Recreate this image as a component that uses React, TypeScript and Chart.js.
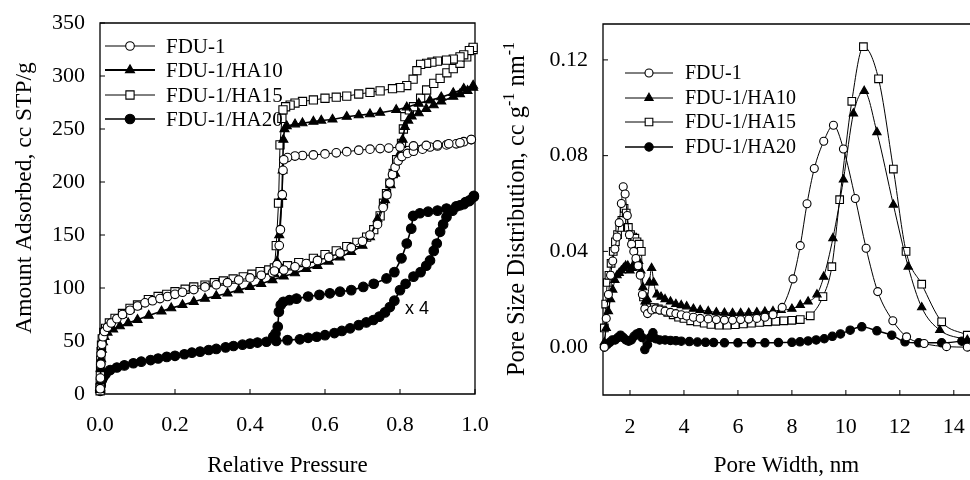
import React, { useEffect, useRef } from 'react';
import { Chart, registerables } from 'chart.js';

Chart.register(...registerables);

const SERIF = '"Liberation Serif", "Times New Roman", serif';
const SANS = '"Liberation Sans", Arial, sans-serif';

const SERIES_LABELS = ['FDU-1', 'FDU-1/HA10', 'FDU-1/HA15', 'FDU-1/HA20'];

// ---------- Left panel: N2 isotherms (relative pressure, cc STP/g) ----------
const FDU1_ADS: [number, number][] = [
  [0.0005, 5], [0.001, 15], [0.002, 28], [0.003, 38], [0.005, 47], [0.008, 54], [0.012, 59], [0.02, 63],
  [0.03, 67], [0.045, 71], [0.06, 75], [0.08, 79], [0.1, 83], [0.12, 86], [0.14, 88], [0.16, 90],
  [0.18, 92], [0.2, 94], [0.22, 96], [0.25, 98.5], [0.28, 101], [0.31, 103], [0.34, 105], [0.37, 107.5],
  [0.4, 109.5], [0.43, 112], [0.46, 114.5], [0.49, 117], [0.52, 120], [0.55, 123], [0.58, 126], [0.61, 129],
  [0.64, 133], [0.67, 138], [0.7, 144], [0.72, 150], [0.74, 160], [0.755, 176], [0.765, 188], [0.773, 199],
  [0.78, 207], [0.787, 214], [0.795, 220], [0.805, 224], [0.82, 227], [0.836, 229], [0.86, 231], [0.88, 233],
  [0.9, 234], [0.924, 235], [0.95, 236], [0.97, 238], [0.99, 240],
];
const FDU1_DES: [number, number][] = [
  [0.99, 240], [0.96, 237], [0.93, 236], [0.9, 235], [0.87, 234.5], [0.836, 234], [0.8, 233], [0.77, 232],
  [0.747, 231.5], [0.72, 231], [0.69, 230], [0.658, 228.6], [0.63, 227.5], [0.6, 226.5], [0.569, 225.5],
  [0.54, 225], [0.52, 224.5], [0.5, 223], [0.49, 221], [0.488, 211], [0.486, 188], [0.481, 155], [0.478, 140],
  [0.472, 122], [0.465, 116],
];

const HA10_ADS: [number, number][] = [
  [0.0005, 4], [0.001, 12], [0.002, 24], [0.003, 33], [0.005, 42], [0.008, 49], [0.012, 54], [0.02, 58],
  [0.035, 61], [0.053, 64], [0.075, 67], [0.1, 70], [0.13, 74], [0.164, 78], [0.19, 81], [0.22, 84],
  [0.25, 87], [0.28, 90], [0.31, 92.5], [0.34, 95], [0.37, 98], [0.4, 101], [0.43, 104], [0.46, 107.5],
  [0.49, 111], [0.52, 114], [0.55, 118], [0.58, 121], [0.61, 125], [0.64, 129], [0.67, 134], [0.7, 140],
  [0.72, 148], [0.74, 165], [0.76, 183], [0.775, 197], [0.787, 208], [0.8, 227], [0.807, 240], [0.813, 252],
  [0.822, 258], [0.831, 262], [0.85, 265], [0.87, 269], [0.89, 272.5], [0.91, 276], [0.942, 280.5],
  [0.96, 283], [0.98, 286], [0.995, 289],
];
const HA10_DES: [number, number][] = [
  [0.995, 291], [0.97, 288], [0.942, 284], [0.91, 280], [0.88, 277], [0.85, 274], [0.818, 270.5], [0.79, 268],
  [0.747, 265.4], [0.72, 264], [0.69, 263], [0.658, 261.6], [0.62, 259], [0.59, 258], [0.569, 257],
  [0.54, 255.5], [0.52, 254.5], [0.498, 252.8], [0.492, 250], [0.489, 240], [0.487, 211], [0.485, 186],
  [0.478, 150], [0.472, 125], [0.465, 113],
];

const HA15_ADS: [number, number][] = [
  [0.0003, 3], [0.0006, 10], [0.001, 18], [0.0015, 25], [0.002, 32], [0.003, 40], [0.004, 46], [0.006, 52],
  [0.01, 58], [0.015, 62], [0.025, 67], [0.04, 71.4], [0.06, 76], [0.08, 80.8], [0.1, 84], [0.129, 89],
  [0.155, 92], [0.178, 94], [0.2, 96.5], [0.227, 98.8], [0.25, 101], [0.28, 102.8], [0.305, 105],
  [0.329, 106.6], [0.355, 108.5], [0.382, 110.5], [0.405, 113], [0.427, 115.4], [0.45, 117], [0.476, 118.6],
  [0.5, 121], [0.53, 124], [0.569, 128], [0.6, 131.5], [0.63, 135], [0.658, 139], [0.685, 143], [0.711, 148],
  [0.73, 155], [0.747, 168], [0.756, 180], [0.764, 189], [0.773, 199], [0.782, 208], [0.791, 221],
  [0.804, 236.5], [0.809, 250], [0.813, 261.6], [0.825, 268], [0.836, 271], [0.855, 279], [0.871, 286.8],
  [0.89, 293], [0.907, 297.8], [0.925, 303], [0.942, 307], [0.96, 312], [0.978, 318], [0.995, 325],
];
const HA15_DES: [number, number][] = [
  [0.995, 327], [0.985, 324], [0.97, 320], [0.96, 318], [0.942, 316], [0.924, 315], [0.9, 314], [0.885, 313],
  [0.871, 312], [0.855, 311], [0.845, 305], [0.835, 297], [0.818, 291], [0.8, 289], [0.78, 288], [0.747, 286],
  [0.72, 284.5], [0.69, 283], [0.658, 281], [0.63, 280], [0.6, 279], [0.569, 277.4], [0.54, 276],
  [0.52, 274.5], [0.507, 272.5], [0.495, 271], [0.488, 268], [0.485, 260], [0.48, 235], [0.476, 180],
  [0.47, 140], [0.465, 119],
];

const HA20_ADS: [number, number][] = [
  [0.0005, 3], [0.002, 8], [0.005, 13], [0.009, 16], [0.015, 19], [0.027, 22.6], [0.045, 25], [0.065, 27],
  [0.089, 29], [0.11, 30.5], [0.135, 32], [0.155, 33.5], [0.178, 35], [0.2, 36], [0.225, 37.5], [0.245, 39],
  [0.267, 40], [0.29, 41.5], [0.31, 42.5], [0.335, 44], [0.356, 45.3], [0.38, 46.5], [0.4, 47.5], [0.42, 48.5],
  [0.444, 49.3], [0.47, 50], [0.5, 50.8], [0.533, 51.6], [0.555, 53], [0.578, 54], [0.6, 55.5], [0.625, 57.5],
  [0.645, 59.5], [0.667, 62], [0.69, 65], [0.71, 67.5], [0.729, 69.8], [0.745, 73], [0.76, 77], [0.773, 82],
  [0.785, 88], [0.8, 98], [0.815, 104], [0.836, 110.7], [0.855, 115], [0.87, 121], [0.88, 126], [0.89, 135],
  [0.898, 142], [0.907, 153], [0.915, 160], [0.924, 167], [0.94, 173], [0.96, 178], [0.975, 181],
  [0.987, 183], [0.997, 186],
];
const HA20_DES: [number, number][] = [
  [0.997, 187], [0.985, 182], [0.97, 179], [0.95, 177], [0.924, 175], [0.9, 173], [0.875, 172],
  [0.853, 170.5], [0.835, 168], [0.83, 156], [0.818, 142], [0.804, 128], [0.785, 115], [0.764, 109],
  [0.73, 104], [0.702, 101], [0.67, 98], [0.64, 96.5], [0.613, 95], [0.585, 93.5], [0.555, 92], [0.524, 90],
  [0.505, 88.5], [0.489, 87], [0.482, 84], [0.477, 77.6], [0.474, 63.5], [0.468, 57], [0.462, 54],
];

const LEFT_X_TICKS = [0, 0.2, 0.4, 0.6, 0.8, 1.0];
const LEFT_Y_TICKS = [0, 50, 100, 150, 200, 250, 300, 350];
const LEFT_X_TITLE = 'Relative Pressure';
const LEFT_Y_TITLE = 'Amount Adsorbed, cc STP/g';
const SCALE_NOTE = 'x 4';
const SCALE_NOTE_AT: [number, number] = [0.813, 80];

// ---------- Right panel: pore size distributions (nm, cc g-1 nm-1) ----------
const FDU1_PSD: [number, number][] = [
  [1.05, 0.0], [1.12, 0.012], [1.2, 0.022], [1.28, 0.03], [1.36, 0.036], [1.44, 0.041], [1.52, 0.046],
  [1.6, 0.052], [1.68, 0.06], [1.75, 0.067], [1.82, 0.064], [1.9, 0.055], [1.98, 0.047], [2.06, 0.043],
  [2.14, 0.04], [2.22, 0.037], [2.3, 0.034], [2.38, 0.03], [2.46, 0.022], [2.55, 0.016], [2.65, 0.014],
  [2.8, 0.0155], [2.95, 0.016], [3.1, 0.0155], [3.3, 0.015], [3.5, 0.0145], [3.7, 0.014], [3.9, 0.0135],
  [4.1, 0.013], [4.35, 0.0125], [4.6, 0.012], [4.9, 0.0118], [5.2, 0.0115], [5.5, 0.0113], [5.8, 0.0113],
  [6.1, 0.0115], [6.4, 0.0117], [6.7, 0.012], [7.0, 0.0125], [7.3, 0.0135], [7.64, 0.0166], [8.04, 0.0285],
  [8.31, 0.0424], [8.56, 0.0599], [8.83, 0.0746], [9.18, 0.086], [9.54, 0.0927], [9.91, 0.0828],
  [10.35, 0.0621], [10.75, 0.0413], [11.18, 0.0232], [11.74, 0.011], [12.25, 0.0043], [12.9, 0.0015],
  [13.73, 0.0002], [14.5, 0.0],
];
const HA10_PSD: [number, number][] = [
  [1.05, 0.002], [1.12, 0.008], [1.2, 0.015], [1.28, 0.02], [1.36, 0.024], [1.44, 0.028], [1.52, 0.03],
  [1.6, 0.031], [1.68, 0.032], [1.76, 0.033], [1.84, 0.034], [1.92, 0.034], [2.0, 0.032], [2.08, 0.033],
  [2.16, 0.035], [2.24, 0.037], [2.32, 0.036], [2.4, 0.032], [2.48, 0.025], [2.56, 0.019], [2.64, 0.02],
  [2.72, 0.027], [2.8, 0.033], [2.88, 0.027], [3.0, 0.022], [3.15, 0.021], [3.3, 0.02], [3.5, 0.019],
  [3.7, 0.018], [3.9, 0.0175], [4.1, 0.017], [4.35, 0.016], [4.6, 0.0155], [4.9, 0.015], [5.2, 0.0145],
  [5.5, 0.0143], [5.8, 0.0142], [6.1, 0.0142], [6.4, 0.0143], [6.7, 0.0145], [7.0, 0.0148], [7.3, 0.015],
  [7.6, 0.0155], [8.0, 0.016], [8.31, 0.0176], [8.6, 0.019], [8.93, 0.022], [9.18, 0.0294], [9.52, 0.0455],
  [9.91, 0.07], [10.28, 0.0976], [10.68, 0.107], [11.15, 0.0898], [11.76, 0.0595], [12.31, 0.0336],
  [12.81, 0.0166], [13.48, 0.0071], [14.5, 0.003],
];
const HA15_PSD: [number, number][] = [
  [1.05, 0.008], [1.1, 0.018], [1.16, 0.027], [1.22, 0.03], [1.3, 0.035], [1.38, 0.04], [1.46, 0.044],
  [1.54, 0.047], [1.62, 0.05], [1.7, 0.053], [1.78, 0.058], [1.86, 0.056], [1.94, 0.05], [2.02, 0.047],
  [2.1, 0.046], [2.18, 0.0455], [2.26, 0.044], [2.34, 0.043], [2.42, 0.04], [2.5, 0.021], [2.6, 0.017],
  [2.75, 0.0165], [2.9, 0.0165], [3.05, 0.016], [3.2, 0.0155], [3.4, 0.0145], [3.6, 0.0135], [3.8, 0.0125],
  [4.0, 0.012], [4.25, 0.011], [4.5, 0.0105], [4.75, 0.01], [5.0, 0.0095], [5.3, 0.0092], [5.6, 0.0092],
  [5.9, 0.0094], [6.2, 0.0097], [6.5, 0.01], [6.8, 0.0103], [7.1, 0.0106], [7.4, 0.0108], [7.7, 0.011],
  [8.0, 0.0112], [8.31, 0.0115], [8.68, 0.0131], [9.15, 0.0211], [9.48, 0.0336], [9.77, 0.0616],
  [10.22, 0.1027], [10.65, 0.1255], [11.21, 0.1121], [11.76, 0.0744], [12.23, 0.04], [12.81, 0.0263],
  [13.55, 0.0106], [14.5, 0.005],
];
const HA20_PSD: [number, number][] = [
  [1.05, 0.0], [1.15, 0.001], [1.25, 0.002], [1.35, 0.003], [1.45, 0.003], [1.55, 0.004], [1.65, 0.005],
  [1.75, 0.004], [1.85, 0.003], [1.95, 0.0025], [2.05, 0.003], [2.15, 0.0045], [2.25, 0.0055], [2.35, 0.006],
  [2.45, 0.004], [2.55, -0.001], [2.65, 0.001], [2.75, 0.004], [2.85, 0.006], [2.95, 0.0035], [3.1, 0.003],
  [3.3, 0.003], [3.5, 0.0028], [3.7, 0.0027], [3.9, 0.0025], [4.2, 0.0023], [4.5, 0.0021], [4.8, 0.002],
  [5.1, 0.0019], [5.5, 0.0018], [6.0, 0.0018], [6.5, 0.0018], [7.0, 0.0018], [7.5, 0.0019], [8.0, 0.002],
  [8.3, 0.0022], [8.6, 0.0026], [8.9, 0.003], [9.2, 0.0035], [9.5, 0.0045], [9.8, 0.0055], [10.16, 0.0071],
  [10.59, 0.0085], [11.15, 0.0068], [11.7, 0.005], [12.19, 0.0022], [12.7, 0.0018], [13.55, 0.0018],
  [14.3, 0.0025],
];

const RIGHT_X_TICKS = [2, 4, 6, 8, 10, 12, 14];
const RIGHT_Y_TICKS = [0, 0.04, 0.08, 0.12];
const RIGHT_X_TITLE = 'Pore Width, nm';
const RIGHT_Y_TITLE_PARTS: [string, boolean][] = [
  ['Pore Size Distribution, cc g', false], ['-1', true], [' nm', false], ['-1', true],
];

// ---------- styles ----------
type Mk = { style: string; filled: boolean; r: number; lw: number };
const LEFT_MARKS: Mk[] = [
  { style: 'circle', filled: false, r: 4.3, lw: 1 },
  { style: 'triangle', filled: true, r: 5.2, lw: 1.6 },
  { style: 'rect', filled: false, r: 5.8, lw: 1 },
  { style: 'circle', filled: true, r: 4.8, lw: 1.6 },
];
const RIGHT_MARKS: Mk[] = [
  { style: 'circle', filled: false, r: 4, lw: 1 },
  { style: 'triangle', filled: true, r: 4.8, lw: 1 },
  { style: 'rect', filled: false, r: 5.4, lw: 1 },
  { style: 'circle', filled: true, r: 4.2, lw: 1.4 },
];

function toXY(pts: [number, number][]) {
  return pts.map(([x, y]) => ({ x, y }));
}

function drawMarker(ctx: CanvasRenderingContext2D, m: Mk, x: number, y: number) {
  ctx.beginPath();
  const r = m.r;
  if (m.style === 'circle') {
    ctx.arc(x, y, r, 0, Math.PI * 2);
  } else if (m.style === 'triangle') {
    let a = 0;
    ctx.moveTo(x + Math.sin(a) * r, y - Math.cos(a) * r);
    a += (2 * Math.PI) / 3;
    ctx.lineTo(x + Math.sin(a) * r, y - Math.cos(a) * r);
    a += (2 * Math.PI) / 3;
    ctx.lineTo(x + Math.sin(a) * r, y - Math.cos(a) * r);
    ctx.closePath();
  } else {
    const s = r * Math.SQRT1_2;
    ctx.rect(x - s, y - s, 2 * s, 2 * s);
  }
  ctx.fillStyle = m.filled ? '#000' : '#fff';
  ctx.fill();
  ctx.lineWidth = 1.1;
  ctx.strokeStyle = '#000';
  ctx.stroke();
}

const framePlugin = {
  id: 'frame',
  beforeDatasetsDraw(chart: any, _args: any, opts: any) {
    const { ctx, chartArea: a, scales } = chart;
    ctx.save();
    ctx.strokeStyle = '#000';
    ctx.lineWidth = 1.3;
    ctx.beginPath();
    if (opts.rightBorder) {
      ctx.rect(a.left, a.top, a.right - a.left, a.bottom - a.top);
    } else {
      ctx.moveTo(a.right, a.top);
      ctx.lineTo(a.left, a.top);
      ctx.lineTo(a.left, a.bottom);
      ctx.lineTo(a.right, a.bottom);
    }
    ctx.stroke();
    ctx.beginPath();
    ctx.lineWidth = 1;
    (opts.xTicks as number[]).forEach((v) => {
      const x = scales.x.getPixelForValue(v);
      ctx.moveTo(x, a.bottom);
      ctx.lineTo(x, a.bottom - 5);
    });
    (opts.yTicks as number[]).forEach((v) => {
      const y = scales.y.getPixelForValue(v);
      ctx.moveTo(a.left, y);
      ctx.lineTo(a.left + 5, y);
    });
    ctx.stroke();
    ctx.restore();
  },
  afterDraw(chart: any, _args: any, opts: any) {
    const { ctx, scales } = chart;
    ctx.save();
    // legend
    const lg = opts.legend;
    (lg.labels as string[]).forEach((label, i) => {
      const y = lg.rows[i];
      const m: Mk = lg.marks[i];
      ctx.beginPath();
      ctx.strokeStyle = '#000';
      ctx.lineWidth = lg.lineWidths[i];
      ctx.moveTo(lg.x0, y);
      ctx.lineTo(lg.x1, y);
      ctx.stroke();
      drawMarker(ctx, m, (lg.x0 + lg.x1) / 2, y);
      ctx.fillStyle = '#000';
      ctx.font = `${lg.fontSize}px ${SERIF}`;
      ctx.textAlign = 'left';
      ctx.textBaseline = 'middle';
      ctx.fillText(label, lg.textX, y + 1);
    });
    // y title (rotated, with optional superscripts)
    const yt = opts.yTitle;
    ctx.translate(yt.x, yt.y);
    ctx.rotate(-Math.PI / 2);
    ctx.fillStyle = '#000';
    ctx.textBaseline = 'middle';
    ctx.textAlign = 'left';
    const parts: [string, boolean][] = yt.parts;
    let total = 0;
    const widths = parts.map(([t, sup]) => {
      ctx.font = `${sup ? yt.supSize : yt.size}px ${SERIF}`;
      const w = ctx.measureText(t).width;
      total += w;
      return w;
    });
    let cx = -total / 2;
    parts.forEach(([t, sup], i) => {
      ctx.font = `${sup ? yt.supSize : yt.size}px ${SERIF}`;
      ctx.fillText(t, cx, sup ? -8 : 0);
      cx += widths[i];
    });
    ctx.setTransform(1, 0, 0, 1, 0, 0);
    // note
    if (opts.note) {
      const [nx, ny] = opts.note.at;
      ctx.font = `18px ${SANS}`;
      ctx.fillStyle = '#000';
      ctx.textAlign = 'left';
      ctx.textBaseline = 'middle';
      ctx.fillText(opts.note.text, scales.x.getPixelForValue(nx), scales.y.getPixelForValue(ny));
    }
    ctx.restore();
  },
};

function makeDatasets(series: [number, number][][], marks: Mk[], smooth: boolean) {
  return series.map((pts, i) => {
    const m = marks[i];
    return {
      label: SERIES_LABELS[i],
      data: toXY(pts),
      showLine: true,
      borderColor: '#000',
      borderWidth: m.lw,
      pointStyle: m.style,
      pointRadius: m.r,
      pointBorderWidth: 1.1,
      pointBorderColor: '#000',
      pointBackgroundColor: m.filled ? '#000' : '#fff',
      tension: smooth ? 0.4 : 0,
      cubicInterpolationMode: smooth ? 'monotone' : 'default',
      clip: 10,
    };
  });
}

function axisCommon(ticks: number[], fmt: (v: number) => string, padding: number) {
  return {
    type: 'linear',
    grid: { display: false, drawTicks: false },
    border: { display: false },
    afterBuildTicks: (scale: any) => {
      scale.ticks = ticks.map((value) => ({ value }));
    },
    ticks: {
      color: '#000',
      font: { family: SERIF, size: 22 },
      padding,
      callback: (v: any) => fmt(Number(v)),
    },
  };
}

export default function App() {
  const leftRef = useRef<HTMLCanvasElement>(null);
  const rightRef = useRef<HTMLCanvasElement>(null);

  useEffect(() => {
    const left = new Chart(leftRef.current as HTMLCanvasElement, {
      type: 'scatter',
      data: {
        datasets: makeDatasets(
          [
            [...FDU1_ADS, ...FDU1_DES],
            [...HA10_ADS, ...HA10_DES],
            [...HA15_ADS, ...HA15_DES],
            [...HA20_ADS, ...HA20_DES],
          ],
          LEFT_MARKS,
          false
        ) as any,
      },
      plugins: [framePlugin],
      options: {
        responsive: false,
        animation: false,
        events: [],
        layout: { autoPadding: false, padding: { top: 23, right: 35, left: 0, bottom: 0 } },
        scales: {
          x: {
            ...axisCommon(LEFT_X_TICKS, (v) => v.toFixed(1), 18),
            min: 0,
            max: 1,
            afterFit: (s: any) => { s.height = 86; s.paddingLeft = 0; s.paddingRight = 0; },
            title: {
              display: true,
              text: LEFT_X_TITLE,
              color: '#000',
              font: { family: SERIF, size: 23 },
              padding: { top: 0, bottom: 0 },
            },
          },
          y: {
            ...axisCommon(LEFT_Y_TICKS, (v) => String(v), 15),
            min: 0,
            max: 350,
            afterFit: (s: any) => { s.width = 100; s.paddingTop = 0; s.paddingBottom = 0; },
          },
        } as any,
        plugins: {
          legend: { display: false },
          tooltip: { enabled: false },
          frame: {
            rightBorder: true,
            xTicks: LEFT_X_TICKS,
            yTicks: LEFT_Y_TICKS,
            legend: {
              labels: SERIES_LABELS,
              rows: [46, 70, 95, 119],
              marks: LEFT_MARKS,
              lineWidths: [1.2, 2, 1, 1.6],
              x0: 105,
              x1: 155,
              textX: 166,
              fontSize: 21,
            },
            yTitle: { x: 25, y: 198, size: 23.5, supSize: 15, parts: [[LEFT_Y_TITLE, false]] },
            note: { text: SCALE_NOTE, at: SCALE_NOTE_AT },
          },
        } as any,
      },
    });

    const right = new Chart(rightRef.current as HTMLCanvasElement, {
      type: 'scatter',
      data: {
        datasets: makeDatasets([FDU1_PSD, HA10_PSD, HA15_PSD, HA20_PSD], RIGHT_MARKS, true) as any,
      },
      plugins: [framePlugin],
      options: {
        responsive: false,
        animation: false,
        events: [],
        layout: { autoPadding: false, padding: { top: 24, right: 0, left: 0, bottom: 0 } },
        scales: {
          x: {
            ...axisCommon(RIGHT_X_TICKS, (v) => String(v), 19),
            min: 1,
            max: 14.6,
            afterFit: (s: any) => { s.height = 85; s.paddingLeft = 0; s.paddingRight = 0; },
            title: {
              display: true,
              text: RIGHT_X_TITLE,
              color: '#000',
              font: { family: SERIF, size: 23 },
              padding: { top: 0, bottom: 0 },
            },
          },
          y: {
            ...axisCommon(RIGHT_Y_TICKS, (v) => v.toFixed(2), 15),
            min: -0.02,
            max: 0.135,
            afterFit: (s: any) => { s.width = 118; s.paddingTop = 0; s.paddingBottom = 0; },
          },
        } as any,
        plugins: {
          legend: { display: false },
          tooltip: { enabled: false },
          frame: {
            rightBorder: false,
            xTicks: RIGHT_X_TICKS,
            yTicks: RIGHT_Y_TICKS,
            legend: {
              labels: SERIES_LABELS,
              rows: [73, 98, 122, 147],
              marks: RIGHT_MARKS,
              lineWidths: [1, 1, 1, 1.6],
              x0: 140,
              x1: 188,
              textX: 200,
              fontSize: 20,
            },
            yTitle: { x: 33, y: 209, size: 24.5, supSize: 16, parts: RIGHT_Y_TITLE_PARTS },
            note: null,
          },
        } as any,
      },
    });

    return () => {
      left.destroy();
      right.destroy();
    };
  }, []);

  return (
    <div style={{ position: 'fixed', left: 0, top: 0, width: 970, height: 480, background: '#fff' }}>
      <canvas
        ref={leftRef}
        width={510}
        height={480}
        style={{ position: 'absolute', left: 0, top: 0, width: 510, height: 480 }}
      />
      <canvas
        ref={rightRef}
        width={485}
        height={480}
        style={{ position: 'absolute', left: 485, top: 0, width: 485, height: 480 }}
      />
    </div>
  );
}
